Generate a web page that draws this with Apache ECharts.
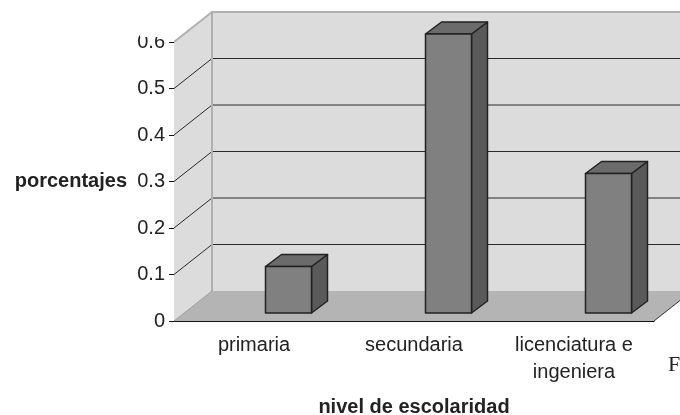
<!DOCTYPE html>
<html>
<head>
<meta charset="utf-8">
<script src="https://cdn.jsdelivr.net/npm/echarts@6/dist/echarts.min.js"></script>
<style>
  html, body { margin: 0; padding: 0; background: #fff; }
  #chart { width: 680px; height: 415px; }
</style>
</head>
<body>
<div id="chart"></div>
<script>
// datos
const categorias = ['primaria', 'secundaria', 'licenciatura e\ningeniera'];
const porcentajes = [0.1, 0.6, 0.3];
const yTicks = [0, 0.1, 0.2, 0.3, 0.4, 0.5, 0.6];

// perspectiva (pixeles)
const DEPTH_X = 38, DEPTH_Y = -30;   // pared del fondo
const BAR_OX = 11.5, BAR_OY = -8;    // cara frontal de la barra
const BAR_W = 46, BAR_DX = 16, BAR_DY = -12;

const font = 'Liberation Sans, Arial, sans-serif';
const chart = echarts.init(document.getElementById('chart'));

function renderWalls(params, api) {
  const cs = params.coordSys;
  const x0 = cs.x, x1 = cs.x + cs.width;
  const yT = cs.y, yB = cs.y + cs.height;
  const children = [];
  // pared lateral
  children.push({ type: 'polygon', shape: { points: [[x0, yT], [x0 + DEPTH_X, yT + DEPTH_Y], [x0 + DEPTH_X, yB + DEPTH_Y], [x0, yB]] },
    style: { fill: '#dcdcdc', stroke: null } });
  // pared del fondo
  children.push({ type: 'rect', shape: { x: x0 + DEPTH_X, y: yT + DEPTH_Y, width: x1 - x0, height: yB - yT },
    style: { fill: '#dcdcdc', stroke: null } });
  // piso
  children.push({ type: 'polygon', shape: { points: [[x0, yB], [x1, yB], [x1 + DEPTH_X, yB + DEPTH_Y], [x0 + DEPTH_X, yB + DEPTH_Y]] },
    style: { fill: '#b4b4b4', stroke: null } });
  // lineas de division
  yTicks.forEach(function (v) {
    if (v === 0 || v === 0.6) return;
    const y = api.coord([0, v])[1];
    children.push({ type: 'polyline', shape: { points: [[x0, y], [x0 + DEPTH_X, y + DEPTH_Y], [x1 + DEPTH_X, y + DEPTH_Y]] },
      style: { stroke: '#2a2a2a', lineWidth: 1, fill: null } });
  });
  // bordes grises
  children.push({ type: 'polyline', shape: { points: [[x0, yT], [x0 + DEPTH_X, yT + DEPTH_Y], [x1 + DEPTH_X, yT + DEPTH_Y]] },
    style: { stroke: '#b0b0b0', lineWidth: 2, fill: null } });
  children.push({ type: 'line', shape: { x1: x0 + DEPTH_X, y1: yT + DEPTH_Y, x2: x0 + DEPTH_X, y2: yB + DEPTH_Y },
    style: { stroke: '#b0b0b0', lineWidth: 2 } });
  children.push({ type: 'line', shape: { x1: x0, y1: yB, x2: x0 + DEPTH_X, y2: yB + DEPTH_Y },
    style: { stroke: '#a0a0a0', lineWidth: 1 } });
  children.push({ type: 'line', shape: { x1: x1, y1: yB, x2: x1 + DEPTH_X, y2: yB + DEPTH_Y },
    style: { stroke: '#333', lineWidth: 1 } });
  return { type: 'group', children: children };
}

function renderBar(params, api) {
  const base = api.coord([api.value(0), 0]);
  const top = api.coord([api.value(0), api.value(1)]);
  const x = base[0] + BAR_OX;
  const yb = base[1] + BAR_OY;
  const yt = top[1] + BAR_OY;
  const edge = { stroke: '#222', lineWidth: 1.5, lineJoin: 'round' };
  return {
    type: 'group',
    children: [
      { type: 'polygon', shape: { points: [[x + BAR_W, yt], [x + BAR_W + BAR_DX, yt + BAR_DY], [x + BAR_W + BAR_DX, yb + BAR_DY], [x + BAR_W, yb]] },
        style: Object.assign({ fill: '#5a5a5a' }, edge) },
      { type: 'polygon', shape: { points: [[x, yt], [x + BAR_DX, yt + BAR_DY], [x + BAR_W + BAR_DX, yt + BAR_DY], [x + BAR_W, yt]] },
        style: Object.assign({ fill: '#6b6b6b' }, edge) },
      { type: 'rect', shape: { x: x, y: yt, width: BAR_W, height: yb - yt },
        style: Object.assign({ fill: '#808080' }, edge) }
    ]
  };
}

const option = {
  animation: false,
  backgroundColor: '#fff',
  textStyle: { fontFamily: font },
  grid: { left: 174, right: 26, top: 42, bottom: 94, outerBoundsMode: 'none', containLabel: false },
  xAxis: {
    type: 'category',
    data: categorias,
    name: 'nivel de escolaridad',
    nameLocation: 'middle',
    nameGap: 76,
    nameTextStyle: { fontSize: 20, fontWeight: 'bold', color: '#222' },
    axisLine: { lineStyle: { color: '#111', width: 1 } },
    axisTick: { length: 5, lineStyle: { color: '#111' } },
    axisLabel: { interval: 0, fontSize: 20, color: '#222', margin: 11, lineHeight: 27 }
  },
  yAxis: {
    type: 'value',
    min: 0,
    max: 0.6,
    interval: 0.1,
    name: 'porcentajes',
    nameLocation: 'middle',
    nameRotate: 0,
    nameGap: 47,
    nameTextStyle: { fontSize: 20, fontWeight: 'bold', color: '#222', align: 'right' },
    axisLine: { show: true, lineStyle: { color: '#111', width: 1 } },
    axisTick: { show: true, length: 5, lineStyle: { color: '#111' } },
    axisLabel: { fontSize: 20, color: '#222', margin: 9 },
    splitLine: { show: false }
  },
  series: [
    {
      type: 'custom',
      z: 1,
      silent: true,
      renderItem: renderWalls,
      data: [[0, 0]]
    },
    {
      type: 'custom',
      z: 2,
      renderItem: renderBar,
      data: porcentajes.map(function (v, i) { return [i, v]; })
    }
  ],
  graphic: [
    { type: 'rect', left: 140, top: 0, shape: { width: 32, height: 37 }, style: { fill: '#fff' }, z: 100 },
    { type: 'text', left: 668, top: 354, style: { text: 'F', font: '22px "Liberation Serif", serif', fill: '#222' }, z: 100 }
  ]
};
chart.setOption(option);
</script>
</body>
</html>
